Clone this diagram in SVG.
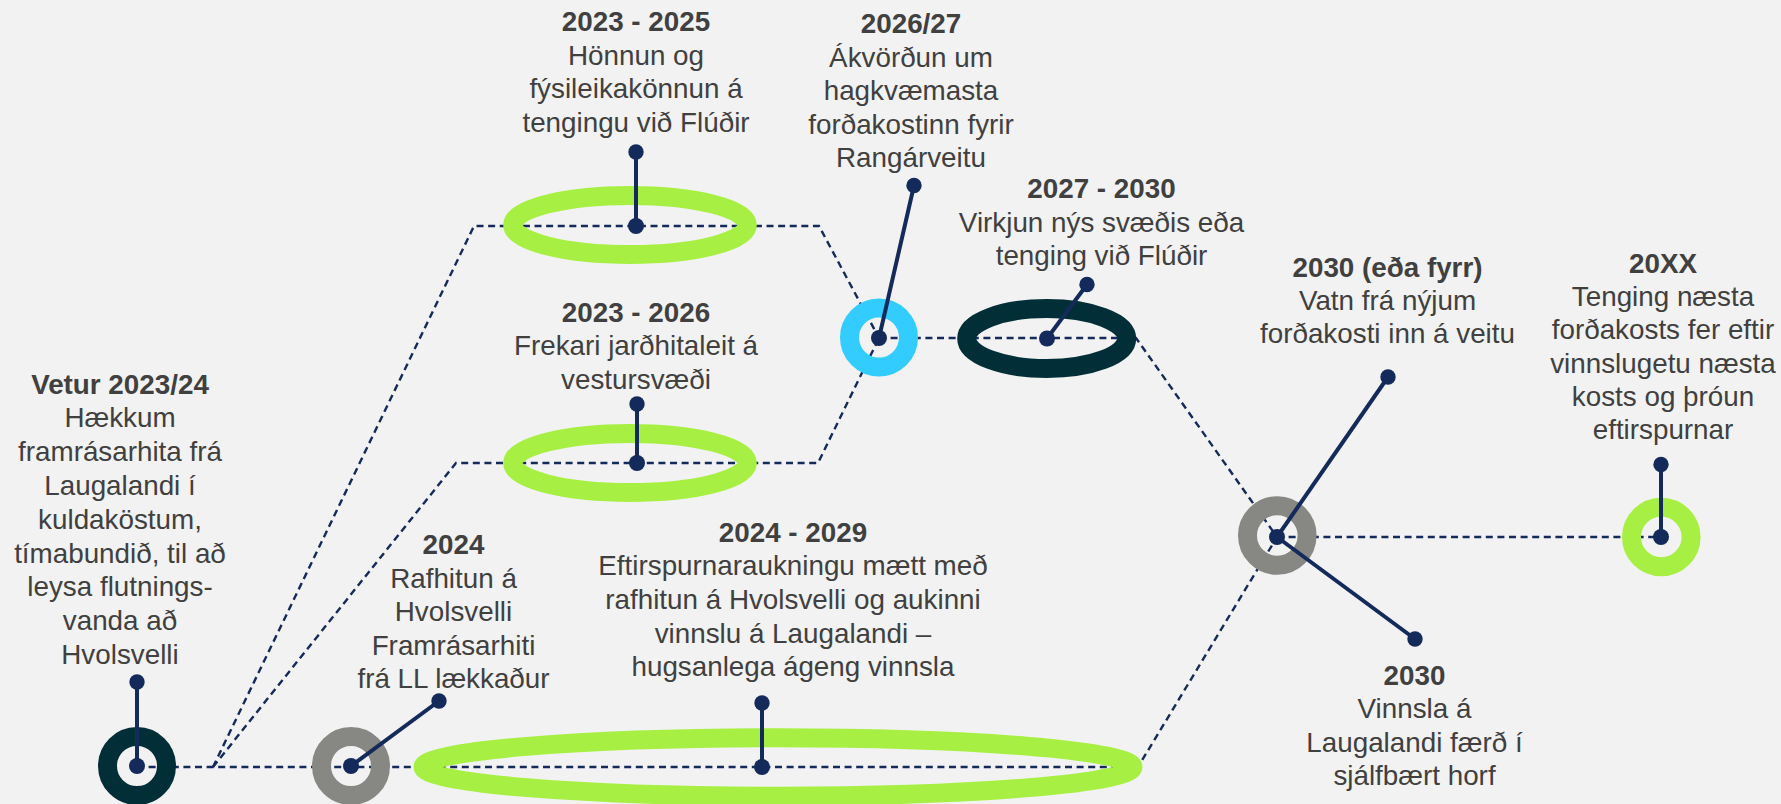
<svg xmlns="http://www.w3.org/2000/svg" width="1781" height="804" viewBox="0 0 1781 804">
<style>
.bg{fill:#f2f2f2}
.dash{fill:none;stroke:#142a5a;stroke-width:2.4;stroke-dasharray:7 4.6}
.ring{fill:none;stroke-width:19}
.green{stroke:#a7f043}
.dark{stroke:#022f37}
.gray{stroke:#878883}
.cyan{stroke:#33ccff}
.pin{stroke:#142a5a;stroke-width:4;fill:none}
.dot{fill:#142a5a}
text{font-family:"Liberation Sans",Arial,sans-serif;font-size:27.8px;fill:#404040;text-anchor:middle}
.t{font-weight:bold}
</style>
<rect class="bg" x="0" y="0" width="1781" height="804"/>
<g id="connectors">
<path class="dash" d="M137,767 H1138 L1277,537"/>
<path class="dash" d="M213,767 L474,226 H819 L879,338"/>
<path class="dash" d="M213,767 L456,463 H818 L879,338"/>
<path class="dash" d="M879,338 H1136 L1277,537"/>
<path class="dash" d="M1277,537 H1661"/>
</g>
<g id="n-vetur">
<circle class="ring dark" cx="137" cy="766" r="29.5"/>
<line class="pin" x1="137" y1="766" x2="137" y2="682"/>
<circle class="dot" cx="137" cy="766" r="8"/><circle class="dot" cx="137" cy="682" r="7.7"/>
<text x="120" y="393.5"><tspan class="t">Vetur 2023/24</tspan><tspan x="120" dy="33.8">Hækkum</tspan><tspan x="120" dy="33.8">framrásarhita frá</tspan><tspan x="120" dy="33.8">Laugalandi í</tspan><tspan x="120" dy="33.8">kuldaköstum,</tspan><tspan x="120" dy="33.8">tímabundið, til að</tspan><tspan x="120" dy="33.8">leysa flutnings-</tspan><tspan x="120" dy="33.8">vanda að</tspan><tspan x="120" dy="33.8">Hvolsvelli</tspan></text>
</g>
<g id="n-2024">
<circle class="ring gray" cx="351" cy="766" r="29.5"/>
<line class="pin" x1="351" y1="766" x2="439" y2="701"/>
<circle class="dot" cx="351" cy="766" r="8"/><circle class="dot" cx="439" cy="701" r="7.7"/>
<text x="453.5" y="554"><tspan class="t">2024</tspan><tspan x="453.5" dy="33.6">Rafhitun á</tspan><tspan x="453.5" dy="33.6">Hvolsvelli</tspan><tspan x="453.5" dy="33.6">Framrásarhiti</tspan><tspan x="453.5" dy="33.6">frá LL lækkaður</tspan></text>
</g>
<g id="n-2024-2029">
<ellipse class="ring green" cx="778" cy="767" rx="355" ry="29.2"/>
<line class="pin" x1="762" y1="767" x2="762" y2="703"/>
<circle class="dot" cx="762" cy="767" r="8"/><circle class="dot" cx="762" cy="703" r="7.7"/>
<text x="793" y="541.7"><tspan class="t">2024 - 2029</tspan><tspan x="793" dy="33.6">Eftirspurnaraukningu mætt með</tspan><tspan x="793" dy="33.6">rafhitun á Hvolsvelli og aukinni</tspan><tspan x="793" dy="33.6">vinnslu á Laugalandi –</tspan><tspan x="793" dy="33.6">hugsanlega ágeng vinnsla</tspan></text>
</g>
<g id="n-2023-2025">
<ellipse class="ring green" cx="630" cy="225" rx="117.3" ry="29.5"/>
<line class="pin" x1="636" y1="226" x2="636" y2="152"/>
<circle class="dot" cx="636" cy="226" r="8"/><circle class="dot" cx="636" cy="152" r="7.7"/>
<text x="636" y="31"><tspan class="t">2023 - 2025</tspan><tspan x="636" dy="33.6">Hönnun og</tspan><tspan x="636" dy="33.6">fýsileikakönnun á</tspan><tspan x="636" dy="33.6">tengingu við Flúðir</tspan></text>
</g>
<g id="n-2023-2026">
<ellipse class="ring green" cx="630" cy="463" rx="117.3" ry="29.5"/>
<line class="pin" x1="637" y1="463" x2="637" y2="404"/>
<circle class="dot" cx="637" cy="463" r="8"/><circle class="dot" cx="637" cy="404" r="7.7"/>
<text x="636" y="321.7"><tspan class="t">2023 - 2026</tspan><tspan x="636" dy="33.4">Frekari jarðhitaleit á</tspan><tspan x="636" dy="33.4">vestursvæði</tspan></text>
</g>
<g id="n-2026-27">
<circle class="ring cyan" cx="879" cy="337.5" r="29.5"/>
<line class="pin" x1="879" y1="338" x2="914" y2="185.5"/>
<circle class="dot" cx="879" cy="338" r="8"/><circle class="dot" cx="914" cy="185.5" r="7.7"/>
<text x="911" y="33.3"><tspan class="t">2026/27</tspan><tspan x="911" dy="33.4">Ákvörðun um</tspan><tspan x="911" dy="33.4">hagkvæmasta</tspan><tspan x="911" dy="33.4">forðakostinn fyrir</tspan><tspan x="911" dy="33.4">Rangárveitu</tspan></text>
</g>
<g id="n-2027-2030">
<ellipse class="ring dark" cx="1046.7" cy="338.5" rx="80" ry="30"/>
<line class="pin" x1="1047" y1="338.5" x2="1087" y2="284.5"/>
<circle class="dot" cx="1047" cy="338.5" r="8"/><circle class="dot" cx="1087" cy="284.5" r="7.7"/>
<text x="1101.5" y="198.3"><tspan class="t">2027 - 2030</tspan><tspan x="1101.5" dy="33.4">Virkjun nýs svæðis eða</tspan><tspan x="1101.5" dy="33.4">tenging við Flúðir</tspan></text>
</g>
<g id="n-2030">
<circle class="ring gray" cx="1277.3" cy="535.5" r="29.8"/>
<line class="pin" x1="1277" y1="537" x2="1388" y2="377"/>
<line class="pin" x1="1277" y1="537" x2="1415" y2="639"/>
<circle class="dot" cx="1277" cy="537" r="8"/><circle class="dot" cx="1388" cy="377" r="7.7"/><circle class="dot" cx="1415" cy="639" r="7.7"/>
</g>
<g id="l-2030-fyrr">
<text x="1387.5" y="276.7"><tspan class="t">2030 (eða fyrr)</tspan><tspan x="1387.5" dy="33.2">Vatn frá nýjum</tspan><tspan x="1387.5" dy="33.2">forðakosti inn á veitu</tspan></text>
</g>
<g id="l-2030">
<text x="1414.5" y="685"><tspan class="t">2030</tspan><tspan x="1414.5" dy="33.4">Vinnsla á</tspan><tspan x="1414.5" dy="33.4">Laugalandi færð í</tspan><tspan x="1414.5" dy="33.4">sjálfbært horf</tspan></text>
</g>
<g id="n-20xx">
<circle class="ring green" cx="1661.3" cy="537" r="29.8"/>
<line class="pin" x1="1661" y1="537" x2="1661" y2="464.5"/>
<circle class="dot" cx="1661" cy="537" r="8"/><circle class="dot" cx="1661" cy="464.5" r="7.7"/>
<text x="1663" y="272.7"><tspan class="t">20XX</tspan><tspan x="1663" dy="33.3">Tenging næsta</tspan><tspan x="1663" dy="33.3">forðakosts fer eftir</tspan><tspan x="1663" dy="33.3">vinnslugetu næsta</tspan><tspan x="1663" dy="33.3">kosts og þróun</tspan><tspan x="1663" dy="33.3">eftirspurnar</tspan></text>
</g>
</svg>
